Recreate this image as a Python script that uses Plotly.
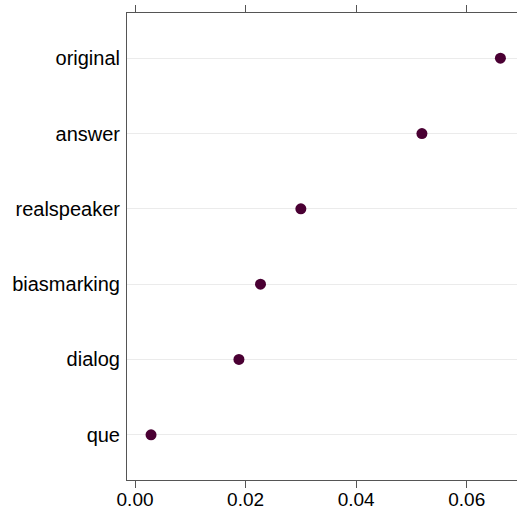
import plotly.graph_objects as go

# values
categories = ['que', 'dialog', 'biasmarking', 'realspeaker', 'answer', 'original']
values = [0.0029, 0.0188, 0.0227, 0.0300, 0.0519, 0.0661]
tick_vals = [0.00, 0.02, 0.04, 0.06]
tick_text = ['0.00', '0.02', '0.04', '0.06']

fig = go.Figure()
fig.add_trace(go.Scatter(
    x=values, y=categories, mode='markers',
    marker={'color': '#4a0033', 'size': 11},
    showlegend=False
))

fig.update_layout(
    width=517, height=514,
    plot_bgcolor='white', paper_bgcolor='white',
    margin={'l': 127, 'r': 0, 't': 13, 'b': 34},
    font={'family': 'Liberation Sans, Arial, sans-serif', 'size': 19, 'color': 'black'}
)
fig.update_xaxes(
    range=[-0.00145, 0.0691], tickvals=tick_vals, ticktext=tick_text,
    showline=True, linecolor='#555555', linewidth=1, mirror='ticks',
    ticks='outside', ticklen=7, tickcolor='#555555',
    ticklabelstandoff=-5,
    showgrid=False, zeroline=False
)
fig.update_yaxes(
    type='category', categoryorder='array', categoryarray=categories,
    range=[-0.6, 5.6], tickfont={'size': 20},
    showline=True, linecolor='#555555', linewidth=1,
    ticks='', ticklabelstandoff=2,
    showgrid=True, gridcolor='#ebebeb', gridwidth=1, zeroline=False
)

fig.write_html("out.html", config={'displayModeBar': False},
               post_script="document.body.style.margin='0';")
